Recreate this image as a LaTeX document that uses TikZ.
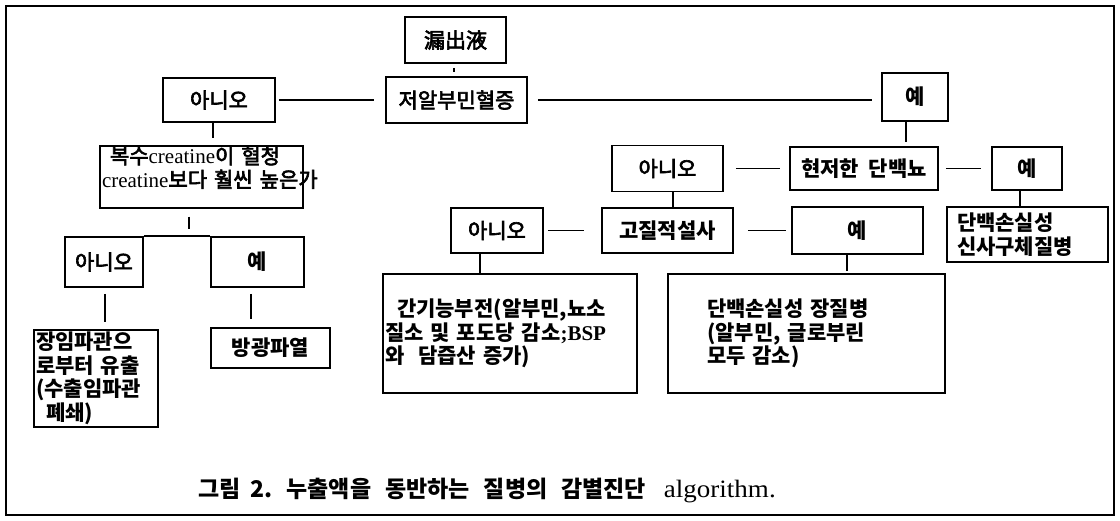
\documentclass[tikz,border=0pt]{standalone}
\usepackage{fontspec}
\usepackage{graphicx}
\setmainfont{Noto Sans CJK KR}[WordSpace=2]
\newfontfamily\med{Noto Sans CJK KR}[WordSpace=2,FakeBold=3]
\newfontfamily\lat{Liberation Serif}
\begin{document}
\begin{tikzpicture}[x=1pt,y=-1pt,
  lw/.style={line width=1.8pt},
  box/.style={draw, lw, inner sep=0pt, font=\fontsize{21}{23.5}\med},
  bbox/.style={box, font=\fontsize{21}{23.5}\selectfont\bfseries},
  conn/.style={lw}]
\useasboundingbox (0,0) rectangle (1120,521);
\draw[lw] (6,6) rectangle (1114,515);
% row 1-2
\node[box, minimum width=101pt, minimum height=46pt] (leak) at (455.5,40) {漏出液};
\node[box, minimum width=141pt, minimum height=46pt] (hypo) at (456.5,100) {저알부민혈증};
\node[box, minimum width=112pt, minimum height=44pt] (no1) at (219,100) {아니오};
\node[bbox, minimum width=66pt, minimum height=48pt] (yes1) at (915,97) {예};
% left branch
\node[box, minimum width=203pt, minimum height=60pt, text width=199pt, align=left] (q) at (201.5,177)
  {\hspace*{8pt}\mbox{복수{\lat creatine}이 혈청}\\\mbox{{\lat creatine}보다 훨씬 높은가}\\[-10pt]\strut};
\node[box, minimum width=78pt, minimum height=50pt] (no2) at (104,262) {아니오};
\node[bbox, minimum width=93pt, minimum height=50pt] (yes2) at (257.5,262) {예};
\node[bbox, minimum width=124pt, minimum height=97pt, text width=120pt, align=left] (lymph) at (96,378.5)
  {장임파관으\\로부터 유출\\(수출임파관\\\hspace*{10pt}폐쇄)};
\node[bbox, minimum width=119pt, minimum height=40pt] (bladder) at (270.5,348) {방광파열};
% right branch
\node[box, minimum width=111pt, minimum height=46pt] (no3) at (667.5,168.5) {아니오};
\node[bbox, minimum width=148pt, minimum height=43pt] (prot) at (864,168.5) {현저한 단백뇨};
\node[bbox, minimum width=70pt, minimum height=43pt] (yes3) at (1027,168.5) {예};
\node[bbox, minimum width=161pt, minimum height=55pt, text width=141pt, align=left] (nephro) at (1027.5,234.5)
  {단백손실성\\신사구체질병};
\node[bbox, minimum width=131pt, minimum height=45pt] (diarr) at (667.5,230.5) {고질적설사};
\node[box, minimum width=92pt, minimum height=45pt] (no4) at (497,230.5) {아니오};
\node[bbox, minimum width=131pt, minimum height=47pt] (yes4) at (857.5,230.5) {예};
\node[bbox, minimum width=254pt, minimum height=119pt, text width=250pt, align=left] (liver) at (510,333.5)
  {\hspace*{12pt}간기능부전(알부민,뇨소\\\mbox{질소 및 포도당 감소{\lat ;BSP}}\\와\hspace{14pt}담즙산 증가)};
\node[bbox, minimum width=277pt, minimum height=119pt, text width=199pt, align=left] (gut) at (806.5,333.5)
  {단백손실성 장질병\\(알부민, 글로부린\\모두 감소)};
% caption
\node[font=\fontsize{23}{26}\selectfont\bfseries, anchor=west, inner sep=0pt] (cap) at (198,490)
  {그림\hspace{10pt}2.\hspace{14pt}누출액을\hspace{14pt}동반하는\hspace{14pt}질병의\hspace{14pt}감별진단\hspace{18pt}{\lat\mdseries\fontsize{25}{26}\selectfont\scalebox{1.08}[1]{algorithm.}}};
% connectors
\draw[conn, shorten <=4pt, shorten >=4pt] ([xshift=-1.5pt]leak.south) -- ([xshift=-1.5pt]leak.south |- hypo.north);
\draw[conn, shorten <=3pt, shorten >=11pt] (no1.east) -- (hypo.west);
\draw[conn, shorten <=10pt, shorten >=9pt] (hypo.east) -- (yes1.west |- hypo.east);
\draw[conn, shorten >=7pt] ([xshift=-6pt]no1.south) -- ([xshift=-6pt]no1.south |- q.north);
\draw[conn, shorten >=4pt] ([xshift=-9pt]yes1.south) -- ([xshift=-9pt]yes1.south |- prot.north);
\draw[conn, shorten <=8pt, shorten >=7pt] ([xshift=-12.5pt]q.south) -- ([xshift=-12.5pt]q.south |- no2.north);
\draw[conn] (no2.north east) -- (yes2.north west);
\draw[conn, shorten <=6pt, shorten >=7pt] ([xshift=1pt]no2.south) -- ([xshift=1pt]no2.south |- lymph.north);
\draw[conn, shorten <=6pt, shorten >=8pt] ([xshift=-6.5pt]yes2.south) -- ([xshift=-6.5pt]yes2.south |- bladder.north);
\draw[conn, shorten <=12pt, shorten >=9pt] (no3.east) -- (prot.west);
\draw[conn, shorten <=7pt, shorten >=10pt] (prot.east) -- (yes3.west);
\draw[conn] ([xshift=5.5pt]no3.south) -- ([xshift=5.5pt]no3.south |- diarr.north);
\draw[conn] ([xshift=-7pt]yes3.south) -- ([xshift=-7pt]yes3.south |- nephro.north);
\draw[conn, shorten <=4pt, shorten >=17pt] (no4.east) -- (diarr.west);
\draw[conn, shorten <=14pt, shorten >=5pt] (diarr.east) -- (yes4.west);
\draw[conn] ([xshift=-17pt]no4.south) -- ([xshift=-17pt]no4.south |- liver.north);
\draw[conn, shorten >=2pt] ([xshift=-10.5pt]yes4.south) -- ([xshift=-10.5pt]yes4.south |- gut.north);
\end{tikzpicture}
\end{document}
